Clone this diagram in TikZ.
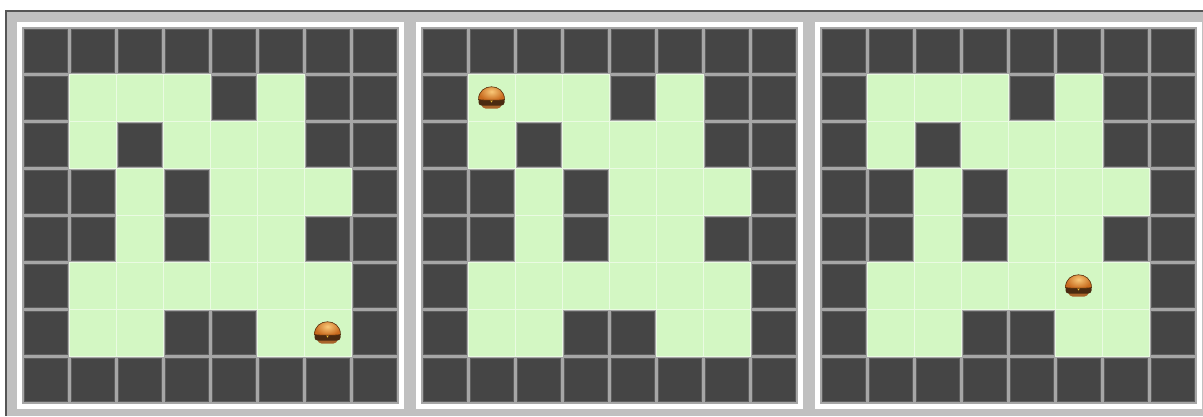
\documentclass[tikz,border=0pt]{standalone}
\usepackage{tikz}
\usetikzlibrary{shapes}
\definecolor{wall}{HTML}{454545}
\definecolor{wallline}{HTML}{5E5E5E}
\definecolor{floor}{HTML}{D3F7C3}
\definecolor{floorline}{HTML}{EAFBE2}
\definecolor{gridline}{HTML}{A6A6A6}
\definecolor{framegray}{HTML}{C0C0C0}
\definecolor{frameedge}{HTML}{555555}
\definecolor{bunlight}{HTML}{F9C878}
\definecolor{bundark}{HTML}{C86A1E}
\definecolor{bunedge}{HTML}{5A300C}
\definecolor{bunbase}{HTML}{A8642A}
\definecolor{patty}{HTML}{4A2A10}
\definecolor{cheese}{HTML}{F2C23A}

% the maze, row by row from the top (1 = floor, 0 = wall)
\newcommand{\mazerows}{
  {0,0,0,0,0,0,0,0},
  {0,1,1,1,0,1,0,0},
  {0,1,0,1,1,1,0,0},
  {0,0,1,0,1,1,1,0},
  {0,0,1,0,1,1,0,0},
  {0,1,1,1,1,1,1,0},
  {0,1,1,0,0,1,1,0},
  {0,0,0,0,0,0,0,0}}

\begin{document}
\begin{tikzpicture}[x=1pt,y=-1pt]
  \tikzset{PanelStyle/.style = {
    shape         = rectangle,
    draw          = white,
    fill          = gridline,
    line width    = 5pt,
    inner sep     = 0pt,
    outer sep     = 0pt,
    minimum size  = 382pt
    }
  }
  \tikzset{WallStyle/.style = {
    shape         = rectangle,
    draw          = wallline,
    fill          = wall,
    line width    = 1pt,
    inner sep     = 0pt,
    outer sep     = 0pt,
    minimum size  = 43pt
    }
  }
  \tikzset{FloorStyle/.style = {
    shape         = rectangle,
    draw          = floorline,
    fill          = floor,
    line width    = 0.8pt,
    inner sep     = 0pt,
    outer sep     = 0pt,
    minimum size  = 47pt
    }
  }
  \tikzset{burger/.pic = {
    % bottom bun and patty
    \fill[bunbase, rounded corners=4pt] (-10,3) rectangle (10,11);
    \fill[patty, rounded corners=3pt] (-13,0) rectangle (13,8);
    \fill[cheese] (-2.5,1) -- (2.5,1) -- (0,5) -- cycle;
    % top bun
    \shade[inner color=bunlight, outer color=bundark, draw=bunedge, line width=0.6pt]
      (-13,2) .. controls (-13,-15) and (13,-15) .. (13,2)
      .. controls (8,3) and (-8,3) .. (-13,2) -- cycle;
    }
  }

  \useasboundingbox (0,0) rectangle (1203,416);

  % window background
  \coordinate (TL) at (5,10);
  \coordinate (BR) at (1203,416);
  \fill[framegray] (TL) rectangle (BR);
  \draw[frameedge, line width=2pt] (1203,11) -- (6,11) -- (6,416);

  % three copies of the maze
  \foreach \p/\px in {1/22, 2/421, 3/820} {
    \node[PanelStyle](P\p) at (\px+188, 215) {};
    \foreach \cells [count=\r from 0] in \mazerows {
      \foreach \v [count=\c from 0] in \cells {
        \ifnum\v=1
          \node[FloorStyle](P\p-\r-\c) at (\px+23.5+47*\c, 50.5+47*\r) {};
        \else
          \node[WallStyle](P\p-\r-\c) at (\px+23.5+47*\c, 50.5+47*\r) {};
        \fi
      }
    }
  }

  % the burger in each maze
  \pic at (P1-6-6) {burger};
  \pic at (P2-1-1) {burger};
  \pic at (P3-5-5) {burger};
\end{tikzpicture}
\end{document}
